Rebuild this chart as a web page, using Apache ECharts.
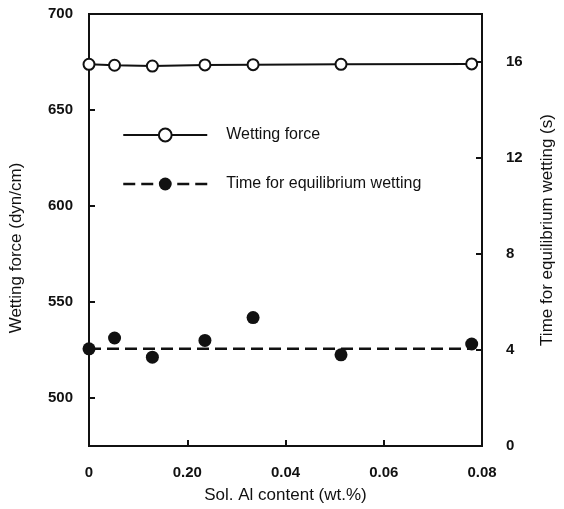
<!DOCTYPE html>
<html>
<head>
<meta charset="utf-8">
<script src="https://cdn.jsdelivr.net/npm/echarts@6/dist/echarts.min.js"></script>
<style>
html,body{margin:0;padding:0;background:#fff;}
#chart{width:564px;height:509px;}
</style>
</head>
<body>
<div id="chart"></div>
<script>
// ---- data ----
var alContent = [0, 0.0052, 0.0129, 0.0236, 0.0334, 0.0513, 0.0779];
var wettingForce = [673.8, 673.3, 672.9, 673.5, 673.6, 673.8, 674.0];
var equilibriumTime = [4.05, 4.5, 3.7, 4.4, 5.35, 3.8, 4.25];
var equilibriumMeanLevel = 4.05;
var meanLineX = [0, 0.078];
var xTickLabels = ["0", "0.20", "0.04", "0.06", "0.08"];
var leftTickValues = [500, 550, 600, 650, 700];
var rightTickValues = [0, 4, 8, 12, 16];

var forceData = alContent.map(function (x, i) { return [x, wettingForce[i]]; });
var timeData = alContent.map(function (x, i) { return [x, equilibriumTime[i]]; });
var meanData = meanLineX.map(function (x) { return [x, equilibriumMeanLevel]; });

var FONT = "Liberation Sans";
var tickLabelStyle = { fontFamily: FONT, fontSize: 15, fontWeight: "bold", color: "#111" };

var chart = echarts.init(document.getElementById("chart"), null, { renderer: "canvas" });
chart.setOption({
  animation: false,
  backgroundColor: "#fff",
  grid: { left: 88, right: 74, top: 14, bottom: 56, show: true, borderColor: "#111", borderWidth: 2, backgroundColor: "transparent" },
  legend: {
    orient: "vertical",
    left: 122, top: 127, padding: 0,
    itemWidth: 84, itemHeight: 16, itemGap: 33,
    textStyle: { fontFamily: FONT, fontSize: 16, color: "#111", padding: [0, 0, 0, 14] },
    data: [
      { name: "Wetting force" },
      { name: "Time for equilibrium wetting", lineStyle: { opacity: 1, type: [12, 6], width: 2.5, color: "#111" } }
    ]
  },
  xAxis: {
    type: "value", min: 0, max: 0.08, interval: 0.02,
    name: "Sol. Al content (wt.%)", nameLocation: "middle", nameGap: 41,
    nameTextStyle: { fontFamily: FONT, fontSize: 17, color: "#111" },
    axisLine: { show: true, lineStyle: { color: "#111", width: 2 } },
    axisTick: { show: true, inside: true, length: 6, customValues: [0.02, 0.04, 0.06], lineStyle: { color: "#111", width: 2 } },
    axisLabel: Object.assign({ margin: 19, formatter: function (v) { return xTickLabels[Math.round(v / 0.02)]; } }, tickLabelStyle),
    splitLine: { show: false }
  },
  yAxis: [
    {
      type: "value", min: 475, max: 700, position: "left",
      name: "Wetting force (dyn/cm)", nameLocation: "middle", nameGap: 64,
      nameTextStyle: { fontFamily: FONT, fontSize: 17, color: "#111", padding: [0, 36, 0, 0] },
      axisLine: { show: true, lineStyle: { color: "#111", width: 2 } },
      axisTick: { show: true, inside: true, length: 6, customValues: [500, 550, 600, 650], lineStyle: { color: "#111", width: 2 } },
      axisLabel: Object.assign({ margin: 16, customValues: leftTickValues }, tickLabelStyle),
      splitLine: { show: false }
    },
    {
      type: "value", min: 0, max: 18, position: "right",
      name: "Time for equilibrium wetting (s)", nameLocation: "middle", nameGap: 57, nameRotate: 90,
      nameTextStyle: { fontFamily: FONT, fontSize: 17, color: "#111" },
      axisLine: { show: true, lineStyle: { color: "#111", width: 2 } },
      axisTick: { show: true, inside: true, length: 6, customValues: [4, 8, 12, 16], lineStyle: { color: "#111", width: 2 } },
      axisLabel: Object.assign({ margin: 24, customValues: rightTickValues }, tickLabelStyle),
      splitLine: { show: false }
    }
  ],
  series: [
    {
      name: "Equilibrium level", type: "line", yAxisIndex: 1, data: meanData,
      symbol: "none", lineStyle: { color: "#111", width: 2.5, type: [12, 6] }, z: 2, silent: true
    },
    {
      name: "Wetting force", type: "line", yAxisIndex: 0, data: forceData,
      symbol: "circle", symbolSize: 11,
      itemStyle: { color: "#fff", borderColor: "#111", borderWidth: 2 },
      lineStyle: { color: "#111", width: 2 }, z: 3
    },
    {
      name: "Time for equilibrium wetting", type: "line", yAxisIndex: 1, data: timeData,
      symbol: "circle", symbolSize: 13,
      itemStyle: { color: "#111" },
      lineStyle: { opacity: 0, width: 0 }, z: 4
    }
  ]
});
</script>
</body>
</html>
